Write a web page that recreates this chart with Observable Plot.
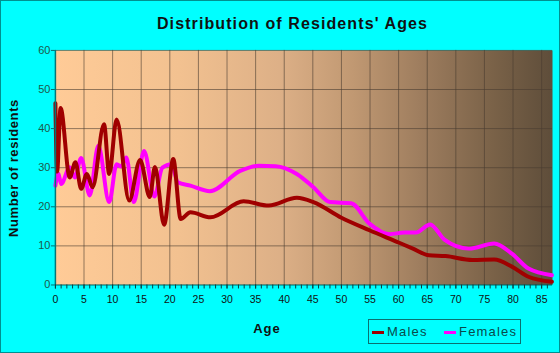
<!DOCTYPE html>
<html>
<head>
<meta charset="utf-8">
<script src="https://cdn.jsdelivr.net/npm/d3@7"></script>
<script src="https://cdn.jsdelivr.net/npm/@observablehq/plot@0.6"></script>
<style>
  html, body { margin: 0; padding: 0; background: #00FFFF; }
  #wrap { position: relative; width: 560px; height: 353px; box-sizing: border-box; border: 1px solid #009090; background: #00FFFF; overflow: hidden; font-family: "Liberation Sans", Arial, sans-serif; }
  #chart { position: absolute; left: -1px; top: -1px; }
  .title { position: absolute; left: 0; width: 583px; top: 14px; text-align: center; font-size: 16px; font-weight: bold; letter-spacing: 1.1px; color: #111; }
  .ylab { position: absolute; left: 12px; top: 167px; transform: translate(-50%, -50%) rotate(-90deg); white-space: nowrap; font-size: 13px; font-weight: bold; letter-spacing: 0.6px; color: #111; }
  .xlab { position: absolute; left: 266px; top: 327px; transform: translate(-50%, -50%); font-size: 13px; font-weight: bold; letter-spacing: 1px; color: #111; }
  .legend { position: absolute; left: 367px; top: 318px; width: 153px; height: 25px; box-sizing: border-box; border: 1px solid #0a7070; font-size: 13px; letter-spacing: 1.2px; color: #0a4a4a; }
  .legend .sw { position: absolute; top: 11px; width: 12px; height: 3px; }
  .legend .tx { position: absolute; top: 4px; }
</style>
</head>
<body>
<div id="wrap">
  <div id="chart"></div>
  <div class="title">Distribution of Residents' Ages</div>
  <div class="ylab">Number of residents</div>
  <div class="xlab">Age</div>
  <div class="legend">
    <div class="sw" style="left:3px;background:#A00000"></div><div class="tx" style="left:18px">Males</div>
    <div class="sw" style="left:75px;background:#FF00FF"></div><div class="tx" style="left:90px">Females</div>
  </div>
</div>
<script>
// Data
const maleAges   = [0, 0.3, 0.9, 2.5, 3.5, 4.5, 5.5, 6.5, 8.5, 9.4, 10.7, 12.9, 14.8, 16.5, 17.4, 19.0, 20.6, 21.9, 23.6, 27.1, 32.9, 37.3, 42.2, 45.1, 50.0, 54.9, 60.1, 62.5, 65.3, 68.2, 72.9, 76.7, 79.8, 82.7, 86.8];
const maleCounts = [46.5, 29, 45.3, 27.5, 31.4, 24.6, 28.4, 25, 41.1, 28.4, 42.3, 21.6, 32, 22.5, 30.2, 15.4, 32.2, 16.9, 18.6, 17.3, 21.4, 20.3, 22.3, 21.2, 17.2, 14, 10.8, 9.3, 7.6, 7.4, 6.4, 6.5, 4.7, 2.1, 0.8];
const femaleAges   = [0, 0.5, 1.0, 2.5, 3.4, 4.5, 6.0, 7.5, 9.4, 10.7, 11.5, 12.4, 13.7, 15.5, 17.3, 18.7, 20.3, 21.4, 23.6, 27.0, 32.3, 35.5, 38.5, 42.2, 45.1, 48.0, 51.7, 54.9, 58.4, 61.0, 63.0, 65.5, 68.0, 72.3, 76.7, 79.8, 82.7, 86.8];
const femaleCounts = [25.4, 28.6, 25.8, 30.1, 27.5, 32.5, 22.9, 35.6, 21.2, 30.9, 30.3, 32.6, 21.2, 34.3, 22.6, 30, 30.9, 26.3, 25.4, 24, 29.2, 30.5, 30.4, 28.4, 25, 21.2, 20.9, 15.7, 13, 13.4, 13.4, 15.5, 11.6, 9.3, 10.6, 8, 4.2, 2.5];
const xMajorTicks = [0, 5, 10, 15, 20, 25, 30, 35, 40, 45, 50, 55, 60, 65, 70, 75, 80, 85];
const xMinorTicks = d3.range(0, 87, 1);
const yTicks = [0, 10, 20, 30, 40, 50, 60];

const gridColor = "#4a3c30";
const chart = Plot.plot({
  width: 560,
  height: 353,
  marginLeft: 55,
  marginRight: 7,
  marginTop: 50,
  marginBottom: 68,
  style: { background: "transparent", fontFamily: "'Liberation Sans', Arial, sans-serif", fontSize: "11px", color: "#0b4a4a" },
  x: { domain: [0, 86.9] },
  y: { domain: [0, 60] },
  marks: [
    Plot.frame({ fill: "url(#bg)", stroke: "none" }),
    Plot.gridX(xMajorTicks.filter(d => d > 0), { stroke: gridColor, strokeOpacity: 0.6 }),
    Plot.gridY(yTicks.filter(d => d > 0), { stroke: gridColor, strokeOpacity: 0.6 }),
    Plot.line(femaleCounts, { x: femaleAges, y: femaleCounts, stroke: "#FF00FF", strokeWidth: 4, curve: "monotone-x" }),
    Plot.line(maleCounts, { x: maleAges, y: maleCounts, stroke: "#A00000", strokeWidth: 4, curve: "monotone-x" }),
    Plot.ruleX([0], { stroke: "#007878", strokeWidth: 1.5 }),
    Plot.ruleY([0], { stroke: "#006060", strokeWidth: 1 }),
    Plot.axisX(xMinorTicks, { tickSize: 4, tickFormat: () => "", stroke: "#0b3f3f", label: null }),
    Plot.axisX(xMajorTicks, { tickSize: 4, tickPadding: 7, label: null, fill: "#111", fontSize: 10.5, stroke: "#0b3f3f" }),
    Plot.axisY(yTicks, { tickSize: 4, tickPadding: 1, label: null, fill: "#1d5a4a", stroke: "#007070" })
  ]
});

// gradient background for plot area
const ns = "http://www.w3.org/2000/svg";
const defs = document.createElementNS(ns, "defs");
const grad = document.createElementNS(ns, "linearGradient");
grad.setAttribute("id", "bg");
grad.setAttribute("x1", "0"); grad.setAttribute("x2", "1");
grad.setAttribute("y1", "0"); grad.setAttribute("y2", "0");
[["0", "#FFCB97"], ["0.25", "#F2C190"], ["0.45", "#DDB087"], ["0.6", "#C09872"], ["0.75", "#9A7A5C"], ["0.88", "#7A6248"], ["1", "#5E4D3A"]].forEach(([o, c]) => {
  const s = document.createElementNS(ns, "stop");
  s.setAttribute("offset", o); s.setAttribute("stop-color", c);
  grad.appendChild(s);
});
defs.appendChild(grad);
chart.insertBefore(defs, chart.firstChild);
document.getElementById("chart").appendChild(chart);
</script>
</body>
</html>
